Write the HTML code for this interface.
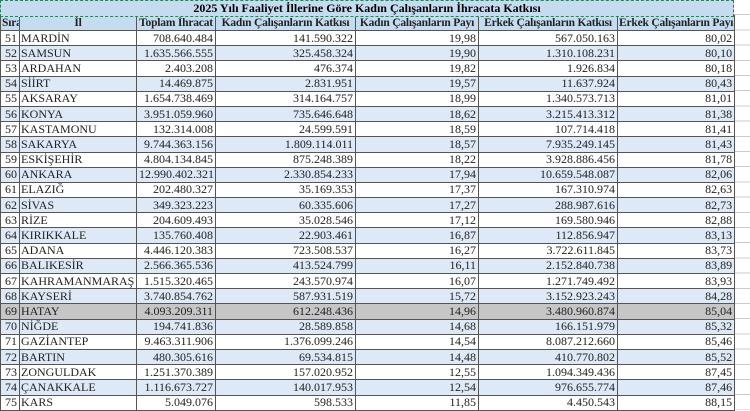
<!DOCTYPE html>
<html><head><meta charset="utf-8"><style>
body{margin:0;width:750px;height:410px;overflow:hidden;background:#fff;font-family:"Liberation Serif",serif;}
table{position:absolute;left:0;top:0;border-collapse:collapse;table-layout:fixed;width:734px;}
td{border:1px solid #555;height:14.2px;padding:0 2px;font-size:12px;line-height:13px;white-space:nowrap;overflow:hidden;text-align:right;color:#222;}
td.l{text-align:left;padding-left:1px;}
tr.b td{background:#dde9f7;}
tr.g td{background:#c6c6c6;}
tr.h td{background:#c5dcf0;font-weight:bold;text-align:center;height:14px;font-size:11.5px;letter-spacing:-0.2px;padding:0 1px;}
.t{position:absolute;left:0;top:0;width:732px;height:15px;background:#c5dcf0;border:1px dashed #2f7f5f;font-weight:bold;font-size:12px;text-align:center;line-height:15px;}
.r{position:absolute;left:734px;top:0;width:16px;height:410px;background:repeating-linear-gradient(#fff 0 14.2px,#ccc 14.2px 15.2px);}
</style></head><body>
<div class="r"></div>
<table>
<colgroup><col style="width:19px"><col style="width:117px"><col style="width:79px"><col style="width:140px"><col style="width:123px"><col style="width:139px"><col style="width:117px"></colgroup>
<tr><td colspan="7" style="border:none;height:15px"></td></tr>
<tr class="h"><td>Sıra</td><td>İl</td><td>Toplam İhracat</td><td>Kadın Çalışanların Katkısı</td><td>Kadın Çalışanların Payı</td><td>Erkek Çalışanların Katkısı</td><td>Erkek Çalışanların Payı</td></tr>
<tr><td>51</td><td class="l">MARDİN</td><td>708.640.484</td><td>141.590.322</td><td>19,98</td><td>567.050.163</td><td>80,02</td></tr>
<tr class="b"><td>52</td><td class="l">SAMSUN</td><td>1.635.566.555</td><td>325.458.324</td><td>19,90</td><td>1.310.108.231</td><td>80,10</td></tr>
<tr><td>53</td><td class="l">ARDAHAN</td><td>2.403.208</td><td>476.374</td><td>19,82</td><td>1.926.834</td><td>80,18</td></tr>
<tr class="b"><td>54</td><td class="l">SİİRT</td><td>14.469.875</td><td>2.831.951</td><td>19,57</td><td>11.637.924</td><td>80,43</td></tr>
<tr><td>55</td><td class="l">AKSARAY</td><td>1.654.738.469</td><td>314.164.757</td><td>18,99</td><td>1.340.573.713</td><td>81,01</td></tr>
<tr class="b"><td>56</td><td class="l">KONYA</td><td>3.951.059.960</td><td>735.646.648</td><td>18,62</td><td>3.215.413.312</td><td>81,38</td></tr>
<tr><td>57</td><td class="l">KASTAMONU</td><td>132.314.008</td><td>24.599.591</td><td>18,59</td><td>107.714.418</td><td>81,41</td></tr>
<tr class="b"><td>58</td><td class="l">SAKARYA</td><td>9.744.363.156</td><td>1.809.114.011</td><td>18,57</td><td>7.935.249.145</td><td>81,43</td></tr>
<tr><td>59</td><td class="l">ESKİŞEHİR</td><td>4.804.134.845</td><td>875.248.389</td><td>18,22</td><td>3.928.886.456</td><td>81,78</td></tr>
<tr class="b"><td>60</td><td class="l">ANKARA</td><td>12.990.402.321</td><td>2.330.854.233</td><td>17,94</td><td>10.659.548.087</td><td>82,06</td></tr>
<tr><td>61</td><td class="l">ELAZIĞ</td><td>202.480.327</td><td>35.169.353</td><td>17,37</td><td>167.310.974</td><td>82,63</td></tr>
<tr class="b"><td>62</td><td class="l">SİVAS</td><td>349.323.223</td><td>60.335.606</td><td>17,27</td><td>288.987.616</td><td>82,73</td></tr>
<tr><td>63</td><td class="l">RİZE</td><td>204.609.493</td><td>35.028.546</td><td>17,12</td><td>169.580.946</td><td>82,88</td></tr>
<tr class="b"><td>64</td><td class="l">KIRIKKALE</td><td>135.760.408</td><td>22.903.461</td><td>16,87</td><td>112.856.947</td><td>83,13</td></tr>
<tr><td>65</td><td class="l">ADANA</td><td>4.446.120.383</td><td>723.508.537</td><td>16,27</td><td>3.722.611.845</td><td>83,73</td></tr>
<tr class="b"><td>66</td><td class="l">BALIKESİR</td><td>2.566.365.536</td><td>413.524.799</td><td>16,11</td><td>2.152.840.738</td><td>83,89</td></tr>
<tr><td>67</td><td class="l">KAHRAMANMARAŞ</td><td>1.515.320.465</td><td>243.570.974</td><td>16,07</td><td>1.271.749.492</td><td>83,93</td></tr>
<tr class="b"><td>68</td><td class="l">KAYSERİ</td><td>3.740.854.762</td><td>587.931.519</td><td>15,72</td><td>3.152.923.243</td><td>84,28</td></tr>
<tr class="g"><td>69</td><td class="l">HATAY</td><td>4.093.209.311</td><td>612.248.436</td><td>14,96</td><td>3.480.960.874</td><td>85,04</td></tr>
<tr class="b"><td>70</td><td class="l">NİĞDE</td><td>194.741.836</td><td>28.589.858</td><td>14,68</td><td>166.151.979</td><td>85,32</td></tr>
<tr><td>71</td><td class="l">GAZİANTEP</td><td>9.463.311.906</td><td>1.376.099.246</td><td>14,54</td><td>8.087.212.660</td><td>85,46</td></tr>
<tr class="b"><td>72</td><td class="l">BARTIN</td><td>480.305.616</td><td>69.534.815</td><td>14,48</td><td>410.770.802</td><td>85,52</td></tr>
<tr><td>73</td><td class="l">ZONGULDAK</td><td>1.251.370.389</td><td>157.020.952</td><td>12,55</td><td>1.094.349.436</td><td>87,45</td></tr>
<tr class="b"><td>74</td><td class="l">ÇANAKKALE</td><td>1.116.673.727</td><td>140.017.953</td><td>12,54</td><td>976.655.774</td><td>87,46</td></tr>
<tr><td>75</td><td class="l">KARS</td><td>5.049.076</td><td>598.533</td><td>11,85</td><td>4.450.543</td><td>88,15</td></tr>
</table>
<div class="t">2025 Yılı Faaliyet İllerine Göre Kadın Çalışanların İhracata Katkısı</div>
</body></html>
